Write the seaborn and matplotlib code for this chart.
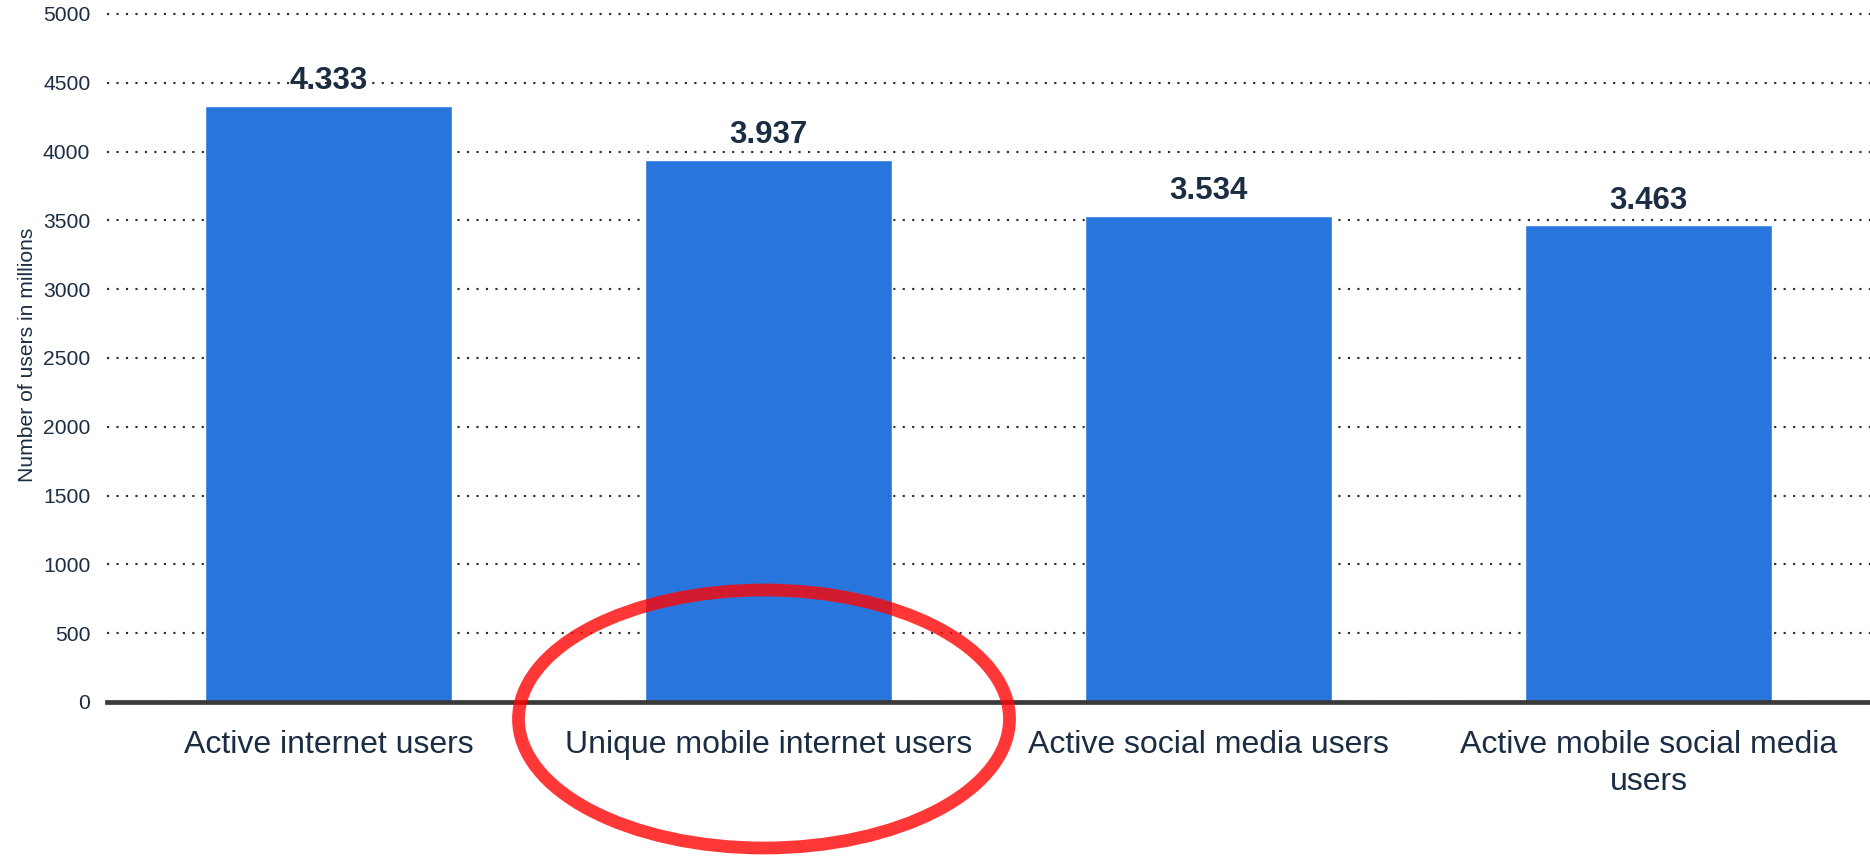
import matplotlib
matplotlib.use("Agg")
import matplotlib.pyplot as plt
from matplotlib.patches import Ellipse
import seaborn as sns
import pandas as pd

# Global digital audience (millions of users)
categories = [
    "Active internet users",
    "Unique mobile internet users",
    "Active social media users",
    "Active mobile social media\nusers",
]
users_millions = [4333, 3937, 3534, 3463]
value_labels = ["4.333", "3.937", "3.534", "3.463"]
y_ticks = [0, 500, 1000, 1500, 2000, 2500, 3000, 3500, 4000, 4500, 5000]

df = pd.DataFrame({"category": categories, "users": users_millions})

sns.set_theme(style="white")
plt.rcParams["font.family"] = ["Liberation Sans", "DejaVu Sans"]

TEXT = "#1b2d42"
BAR = "#2876dd"

fig = plt.figure(figsize=(18.7, 8.56), dpi=100)
ax = fig.add_axes([0.0572, 0.18, 0.9428, 0.8118])

ax.yaxis.grid(True, color="#2e2e2e", linestyle=(0, (1, 3.4)), linewidth=1.55)
ax.set_axisbelow(True)

sns.barplot(data=df, x="category", y="users", color=BAR, width=0.56,
            saturation=1, ax=ax, zorder=2)

ax.set_xlim(-0.503, 3.503)
ax.set_ylim(0, 5050)
ax.set_yticks(y_ticks)
ax.set_yticklabels([str(t) for t in y_ticks], fontsize=15.2, color=TEXT)
ax.tick_params(axis="y", length=0, pad=12)
ax.tick_params(axis="x", length=0, pad=20, labelsize=23, labelcolor=TEXT)
for lbl in ax.get_xticklabels():
    lbl.set_linespacing(1.3)

for s in ["left", "right", "top"]:
    ax.spines[s].set_visible(False)
ax.spines["bottom"].set_color("#3a3a3a")
ax.spines["bottom"].set_linewidth(3.4)
ax.spines["bottom"].set_zorder(3)

ax.set_xlabel("")
ax.set_ylabel("Number of users in millions", fontsize=15.2, color=TEXT, labelpad=4)

for i, (v, lab) in enumerate(zip(users_millions, value_labels)):
    ax.annotate(lab, (i, v), xytext=(0, 7), textcoords="offset points",
                ha="center", va="bottom", fontsize=22.5, fontweight="bold",
                color=TEXT)

# Highlight around the second category
ring = Ellipse((764 / 1870, 1 - 719 / 856), 491 / 1870, 258 / 856,
               transform=fig.transFigure, fill=False,
               edgecolor=(1.0, 0.02, 0.02, 0.8), linewidth=9.2, zorder=10)
fig.add_artist(ring)

fig.savefig("out.png", dpi=100)
